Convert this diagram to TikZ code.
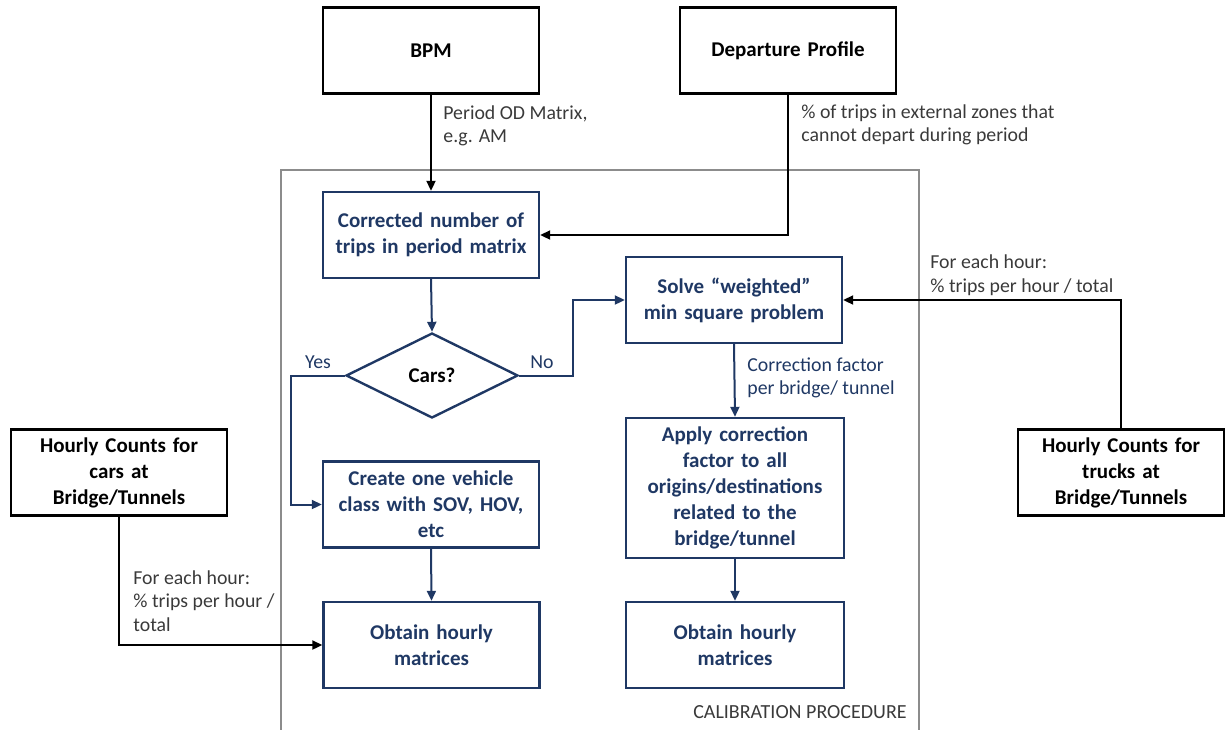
\documentclass[tikz,border=0pt]{standalone}
\usepackage{fontspec}
\setmainfont{Carlito}
\usepackage{xcolor}
\usepackage{tikz}
\usetikzlibrary{shapes.geometric, arrows.meta}
\definecolor{navy}{HTML}{1F3864}
\definecolor{framegray}{HTML}{8C8C8C}
\definecolor{labelgray}{HTML}{3A3A3A}
\tikzstyle{source} = [rectangle, draw=black, line width=1.2pt, text width=104pt, align=center, minimum width=108pt, minimum height=43pt, font=\fontsize{10.5}{13}\selectfont\bfseries, inner sep=2pt]
\tikzstyle{process} = [source, draw=navy, text=navy]
\tikzstyle{decision} = [diamond, draw=navy, line width=1.2pt, minimum width=86pt, minimum height=42.5pt, font=\fontsize{10.5}{13}\selectfont\bfseries, inner sep=0pt]
\tikzstyle{arrow} = [line width=1pt, -{Triangle[length=5pt,width=4.5pt]}]
\tikzstyle{navyarrow} = [arrow, navy]
\tikzstyle{flowlabel} = [anchor=west, align=left, font=\fontsize{9.9}{11.8}\selectfont, inner sep=0pt, text=labelgray]

\begin{document}
\begin{tikzpicture}[x=0.5pt,y=-0.5pt]
\useasboundingbox (0,0) rectangle (1225,729);

% calibration frame
\draw[framegray, line width=0.9pt] (281,170) rectangle (919,740);
\node[anchor=east, font=\fontsize{10}{12}\selectfont, text=labelgray, inner sep=0pt] (calib) at (907,712) {CALIBRATION PROCEDURE};

% inputs
\node[source] (bpm) at (431,50.5) {BPM};
\node[source] (profile) at (788,50.5) {Departure Profile};
\node[source] (carcounts) at (119,472.5) {Hourly Counts for\\cars at\\Bridge/Tunnels};
\node[source, text width=98pt, minimum width=103pt] (truckcounts) at (1121,472.5) {Hourly Counts for\\trucks at\\Bridge/Tunnels};

% procedure
\node[process] (corrected) at (431,235) {Corrected number of\\trips in period matrix};
\node[decision] (cars) at (432,375.5) {Cars?};
\node[process] (create) at (431,504.5) {Create one vehicle\\class with SOV, HOV,\\etc};
\node[process] (obtaincars) at (431.5,645) {Obtain hourly\\matrices};
\node[process] (solve) at (734,300) {Solve “weighted”\\min square problem};
\node[process, minimum width=109pt, minimum height=70pt] (apply) at (735,488) {Apply correction\\factor to all\\origins/destinations\\related to the\\bridge/tunnel};
\node[process, minimum width=109pt] (obtaintrucks) at (735,645) {Obtain hourly\\matrices};

% connectors
\draw[arrow] (bpm.south) -- (corrected.north);
\node[flowlabel] (periodlabel) at (443,126) {Period OD Matrix,\\e.g. AM};
\draw[arrow] (profile.south) |- (corrected.east);
\node[flowlabel] (profilelabel) at (801,125) {\% of trips in external zones that\\cannot depart during period};

\draw[navyarrow] (corrected.south) -- (cars.north);
\draw[navyarrow] (cars.west) -- ++(-54,0) |- (create.west);
\node[text=navy, font=\fontsize{9.9}{11.8}\selectfont, inner sep=0pt] (yes) at (318,362) {Yes};
\draw[navyarrow] (cars.east) -- ++(54,0) |- (solve.west);
\node[text=navy, font=\fontsize{9.9}{11.8}\selectfont, inner sep=0pt] (no) at (542,362) {No};

\draw[navyarrow] (create.south) -- (obtaincars.north);
\draw[navyarrow] (solve.south) -- (apply.north);
\node[flowlabel, text=navy] (corrlabel) at (747,378) {Correction factor\\per bridge/ tunnel};
\draw[navyarrow] (apply.south) -- (obtaintrucks.north);

\draw[arrow] (carcounts.south) |- (obtaincars.west);
\node[flowlabel] (carlabel) at (133,601) {For each hour:\\\% trips per hour /\\total};
\draw[arrow] (truckcounts.north) |- (solve.east);
\node[flowlabel] (trucklabel) at (930,275) {For each hour:\\\% trips per hour / total};
\end{tikzpicture}
\end{document}
